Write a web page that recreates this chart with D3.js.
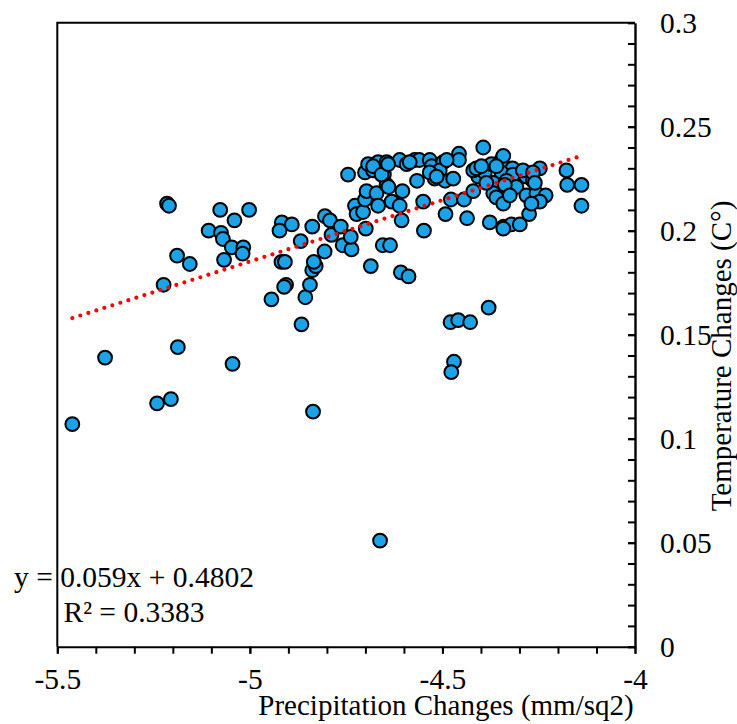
<!DOCTYPE html>
<html>
<head>
<meta charset="utf-8">
<script src="https://cdn.jsdelivr.net/npm/d3@7"></script>
<style>
  html, body { margin: 0; padding: 0; background: #fff; }
  svg { display: block; }
  svg text { font-family: "Liberation Serif", "Times New Roman", "DejaVu Serif", serif !important; fill: #000; }
</style>
</head>
<body>
<svg id="chart" width="737" height="724"></svg>
<script>
// ---- data ----
const precipitation = [
  -5.461,-5.376,-5.241,-5.205,-5.187,-5.224,-5.215,-5.210,-5.189,-5.156,
  -5.107,-5.077,-5.075,-5.070,-5.067,-5.047,-5.040,-5.017,-5.019,-5.002,
  -5.045,-4.944,-4.917,-4.891,-4.923,-4.918,-4.909,-4.906,-4.911,-4.868,
  -4.856,-4.866,-4.838,-4.836,-4.844,-4.838,-4.829,-4.834,-4.806,-4.805,
  -4.792,-4.788,-4.764,-4.759,-4.736,-4.738,-4.745,-4.727,-4.723,-4.706,
  -4.701,-4.697,-4.671,-4.667,-4.699,-4.701,-4.693,-4.680,-4.686,-4.655,
  -4.636,-4.667,-4.645,-4.652,-4.645,-4.611,-4.593,-4.572,-4.560,-4.533,
  -4.528,-4.498,-4.457,-4.457,-4.394,-4.640,-4.566,-4.520,-4.493,-4.472,
  -4.507,-4.533,-4.604,-4.550,-4.606,-4.492,-4.548,-4.478,-4.444,-4.436,
  -4.420,-4.407,-4.420,-4.390,-4.373,-4.347,-4.342,-4.318,-4.347,-4.317,
  -4.368,-4.334,-4.377,-4.341,-4.321,-4.299,-4.275,-4.368,-4.351,-4.334,
  -4.308,-4.282,-4.256,-4.232,-4.282,-4.247,-4.265,-4.178,-4.176,-4.139,
  -4.139,-4.608,-4.588,-4.380,-4.479,-4.459,-4.428,-4.470,-4.477,-4.662,
  -4.632,-4.611,-4.680,-4.658,-4.641,-4.585,-4.489,-4.515,-4.412,-4.399,
  -4.386,-4.360,-4.342,-4.342,-4.360,-4.291,-4.265,-4.338,-4.260,-4.325,
  -4.247,-4.269,-4.342
];
const temperature = [
  0.107,0.139,0.117,0.119,0.144,0.174,0.213,0.212,0.188,0.184,
  0.200,0.210,0.199,0.196,0.186,0.192,0.205,0.192,0.189,0.210,
  0.136,0.167,0.204,0.203,0.200,0.185,0.185,0.174,0.173,0.195,
  0.168,0.155,0.202,0.113,0.174,0.181,0.183,0.185,0.190,0.207,
  0.205,0.198,0.202,0.193,0.191,0.197,0.227,0.212,0.208,0.209,
  0.215,0.219,0.218,0.212,0.201,0.228,0.232,0.229,0.183,0.193,
  0.193,0.233,0.233,0.227,0.222,0.234,0.232,0.234,0.234,0.234,
  0.231,0.233,0.237,0.234,0.240,0.221,0.224,0.225,0.224,0.225,
  0.229,0.228,0.219,0.214,0.205,0.208,0.200,0.215,0.215,0.206,
  0.219,0.226,0.229,0.228,0.232,0.234,0.231,0.230,0.228,0.227,
  0.223,0.224,0.204,0.202,0.203,0.203,0.208,0.218,0.216,0.219,
  0.221,0.217,0.218,0.217,0.226,0.230,0.224,0.229,0.222,0.222,
  0.212,0.180,0.178,0.163,0.156,0.157,0.156,0.137,0.132,0.051,
  0.214,0.212,0.231,0.227,0.232,0.233,0.234,0.226,0.230,0.231,
  0.223,0.216,0.213,0.236,0.231,0.229,0.228,0.222,0.223,0.217,
  0.214,0.213,0.201
];
const xMajorTicks = [-5.5, -5, -4.5, -4];
const xTickLabels = ["-5.5", "-5", "-4.5", "-4"];
const yMajorTicks = [0, 0.05, 0.1, 0.15, 0.2, 0.25, 0.3];
const yTickLabels = ["0", "0.05", "0.1", "0.15", "0.2", "0.25", "0.3"];
const xMinorTicks = d3.range(0, 16).map(i => -5.5 + i * 0.1);
const yMinorTicks = d3.range(0, 31).map(i => i * 0.01);
const trendSlope = 0.059;
const trendIntercept = 0.4802;
const equationLines = ["y = 0.059x + 0.4802", "R² = 0.3383"];
const xTitle = "Precipitation Changes (mm/sq2)";
const yTitle = "Temperature Changes (C°)";

// ---- layout ----
const FONT = '"Liberation Serif", "Times New Roman", "DejaVu Serif", serif';
const TICK_FS = 29.5;
const plotL = 57.3, plotR = 635, plotT = 22.7, plotB = 646.7;
const svg = d3.select("#chart");
const x = d3.scaleLinear().domain([-5.5, -4]).range([plotL, plotR]);
const y = d3.scaleLinear().domain([0, 0.3]).range([plotB, plotT]);

// frame (top + left)
svg.append("path")
  .attr("d", `M${plotL},${plotB} V${plotT} H${plotR}`)
  .attr("fill", "none").attr("stroke", "#000").attr("stroke-width", 2);

function styleAxis(g) {
  g.attr("font-family", FONT).attr("font-size", TICK_FS);
  g.selectAll("line").attr("stroke-width", 2);
  g.selectAll("text").attr("font-family", FONT).attr("font-size", TICK_FS);
}

// bottom axis
const gx = svg.append("g").attr("transform", `translate(0,${plotB})`);
gx.append("g").call(d3.axisBottom(x).tickValues(xMinorTicks).tickFormat("").tickSize(7).tickSizeOuter(0))
  .call(g => g.select(".domain").remove())
  .call(styleAxis);
gx.append("g").call(d3.axisBottom(x).tickValues(xMajorTicks)
    .tickFormat((d, i) => xTickLabels[i]).tickSize(7).tickSizeOuter(0).tickPadding(14))
  .call(g => g.select(".domain").attr("stroke-width", 2))
  .call(styleAxis);

// right axis (ticks inward)
const gy = svg.append("g").attr("transform", `translate(${plotR},0)`);
gy.append("g").call(d3.axisRight(y).tickValues(yMinorTicks).tickFormat("").tickSizeInner(-7).tickSizeOuter(0))
  .call(g => g.select(".domain").remove())
  .call(styleAxis);
gy.append("g").call(d3.axisRight(y).tickValues(yMajorTicks)
    .tickFormat((d, i) => yTickLabels[i]).tickSizeInner(-7).tickSizeOuter(0).tickPadding(25))
  .call(g => g.select(".domain").attr("stroke-width", 2.4))
  .call(styleAxis)
  .call(g => g.selectAll("text").attr("dy", "0.33em"));

// points
const pts = precipitation.map((p, i) => ({ p, t: temperature[i] }));
svg.append("g").selectAll("circle").data(pts).join("circle")
  .attr("cx", d => x(d.p)).attr("cy", d => y(d.t)).attr("r", 6.9)
  .attr("fill", "#1ca2e6").attr("stroke", "#000").attr("stroke-width", 2);

// trendline
const [xmin, xmax] = d3.extent(precipitation);
const trend = [xmin, xmax].map(v => ({ p: v, t: trendSlope * v + trendIntercept }));
svg.append("path").datum(trend)
  .attr("d", d3.line().x(d => x(d.p)).y(d => y(d.t)))
  .attr("fill", "none").attr("stroke", "#ff0000").attr("stroke-width", 4.2)
  .attr("stroke-linecap", "round").attr("stroke-dasharray", "0 8.4");

// equation
svg.append("g").selectAll("text").data(equationLines).join("text")
  .attr("x", 134).attr("y", (d, i) => 587 + i * 35)
  .attr("text-anchor", "middle").attr("font-family", FONT).attr("font-size", 29.5).text(d => d);

// axis titles
svg.append("text").attr("x", 446).attr("y", 715).attr("text-anchor", "middle")
  .attr("font-family", FONT).attr("font-size", 29).text(xTitle);
svg.append("text").attr("transform", "translate(731,356) rotate(-90)").attr("text-anchor", "middle")
  .attr("font-family", FONT).attr("font-size", 29).text(yTitle);
</script>
</body>
</html>
